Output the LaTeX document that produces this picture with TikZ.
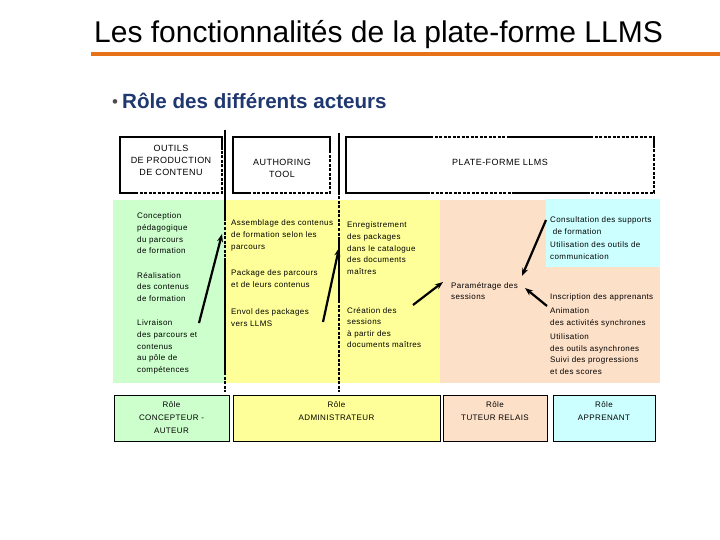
\documentclass[tikz,border=0pt]{standalone}
\usepackage{fontspec}
\setmainfont{Liberation Sans}
\newfontfamily\diagfont[LetterSpace=5]{Liberation Sans}
\usetikzlibrary{arrows.meta}
\definecolor{titleorange}{RGB}{232,114,26}
\definecolor{subblue}{RGB}{31,56,112}
\definecolor{areagreen}{RGB}{204,255,204}
\definecolor{areayellow}{RGB}{255,255,153}
\definecolor{areapeach}{RGB}{253,224,200}
\definecolor{areacyan}{RGB}{204,255,255}
\begin{document}
\begin{tikzpicture}[x=1pt, y=-1pt,
    every node/.style={inner sep=0pt},
    txt/.style={font=\diagfont\fontsize{8}{11.6}\selectfont, align=left, anchor=north west},
    head/.style={font=\diagfont\fontsize{9}{12}\selectfont, align=center},
    roletxt/.style={font=\diagfont\fontsize{8}{13.3}\selectfont, align=center, anchor=north},
    solidseg/.style={line width=1.6pt},
    dashseg/.style={line width=1.6pt, dash pattern=on 3pt off 1.5pt},
    flow/.style={line width=2.2pt, -{Stealth[length=8pt,width=6pt]}}]
    \useasboundingbox (0,0) rectangle (720,540);
% Title and subtitle
    \node[anchor=base west, font=\fontsize{30}{34}\selectfont] (title) at (94,43) {Les fonctionnalités de la plate-forme LLMS};
    \draw[titleorange, line width=4pt] (91,54) -- (720,54);
    \node[anchor=base west, font=\fontsize{17}{20}\selectfont, text=black!70] (bullet) at (112,108) {•};
    \node[anchor=base west, font=\bfseries\fontsize{20.6}{24}\selectfont, text=subblue] (subtitle) at (122,109) {Rôle des différents acteurs};
% Coloured areas
    \fill[areagreen] (113,200) rectangle (226,383);
    \fill[areayellow] (226,200) rectangle (440,383);
    \fill[areapeach] (440,200) rectangle (660,383);
    \fill[areacyan] (546,199) rectangle (660,267);
% Header boxes
    \draw[solidseg] (222,150) -- (222,137) -- (120,137) -- (120,193) -- (135,193);
    \draw[dashseg] (135,193) -- (222,193) -- (222,150);
    \draw[dashseg] (200,137) -- (222,137);
    \draw[solidseg] (330,150) -- (330,137) -- (233,137) -- (233,193) -- (248,193);
    \draw[dashseg] (248,193) -- (330,193) -- (330,150);
    \draw[dashseg] (312,137) -- (330,137);
    \draw[solidseg] (430,137) -- (346,137) -- (346,193) -- (430,193);
    \draw[dashseg] (430,137) -- (510,137);
    \draw[solidseg] (510,137) -- (590,137);
    \draw[dashseg] (590,137) -- (654,137) -- (654,193) -- (590,193);
    \draw[solidseg] (654,137) -- (654,148);
    \draw[solidseg] (590,193) -- (515,193);
    \draw[dashseg] (515,193) -- (430,193);
    \node[head] (outils) at (171,160) {OUTILS\\DE PRODUCTION\\DE CONTENU};
    \node[head] (authoring) at (282,168) {AUTHORING\\TOOL};
    \node[head] (llms) at (500,162) {PLATE-FORME LLMS};
% Column separators
    \draw[solidseg] (225,130) -- (225,218);
    \draw[dashseg] (225,218) -- (225,258);
    \draw[solidseg] (225,258) -- (225,372);
    \draw[dashseg] (225,372) -- (225,392);
    \draw[solidseg] (339,133) -- (339,192);
    \draw[dashseg] (339,192) -- (339,240);
    \draw[solidseg] (339,240) -- (339,300);
    \draw[dashseg] (339,300) -- (339,392);
% Tasks of each actor
    \node[txt] (concep) at (137,213) {Conception\\pédagogique\\du parcours\\de formation};
    \node[txt] (realis) at (137,272) {Réalisation\\des contenus\\de formation};
    \node[txt] (livr) at (137,320) {Livraison\\des parcours et\\contenus\\au pôle de\\compétences};
    \node[txt] (assem) at (231,220) {Assemblage des contenus\\de formation selon les\\parcours};
    \node[txt] (pack) at (231,270) {Package des parcours\\et de leurs contenus};
    \node[txt] (envol) at (231,309) {Envol des packages\\vers LLMS};
    \node[txt] (enreg) at (347,222) {Enregistrement\\des packages\\dans le catalogue\\des documents\\maîtres};
    \node[txt] (creat) at (347,307) {Création des\\sessions\\à partir des\\documents maîtres};
    \node[txt] (param) at (451,282) {Paramétrage des\\sessions};
    \node[txt] (consult) at (550,217) {Consultation des supports\\\ de formation};
    \node[txt] (utilcom) at (550,242) {Utilisation des outils de\\communication};
    \node[txt] (inscr) at (550,294) {Inscription des apprenants};
    \node[txt] (anim) at (550,308) {Animation\\des activités synchrones};
    \node[txt] (utilas) at (550,334) {Utilisation\\des outils asynchrones};
    \node[txt] (suivi) at (550,357) {Suivi des progressions\\et des scores};
% Arrows
    \coordinate (a1s) at (199,323); \coordinate (a1e) at (222,234);
    \coordinate (a2s) at (323,322); \coordinate (a2e) at (339,248);
    \coordinate (a3s) at (413,305); \coordinate (a3e) at (443,282);
    \coordinate (a4s) at (546,220); \coordinate (a4e) at (522,276);
    \coordinate (a5s) at (547,306); \coordinate (a5e) at (525,288);
    \foreach \k in {1,...,5} {
        \draw[flow] (a\k s) -- (a\k e);
    }
% Role boxes
    \foreach \name/\xa/\xb/\col/\lbl in {rconc/114/229/areagreen/{Rôle\\CONCEPTEUR -\\AUTEUR},
        radmin/233/440/areayellow/{Rôle\\ADMINISTRATEUR},
        rtut/443/547/areapeach/{Rôle\\TUTEUR RELAIS},
        rappr/553/655/areacyan/{Rôle\\APPRENANT}} {
        \draw[fill=\col, line width=0.8pt] (\xa,395) rectangle (\xb,441);
        \node[roletxt] (\name) at ({(\xa+\xb)/2},401) {\lbl};
    }
\end{tikzpicture}
\end{document}
